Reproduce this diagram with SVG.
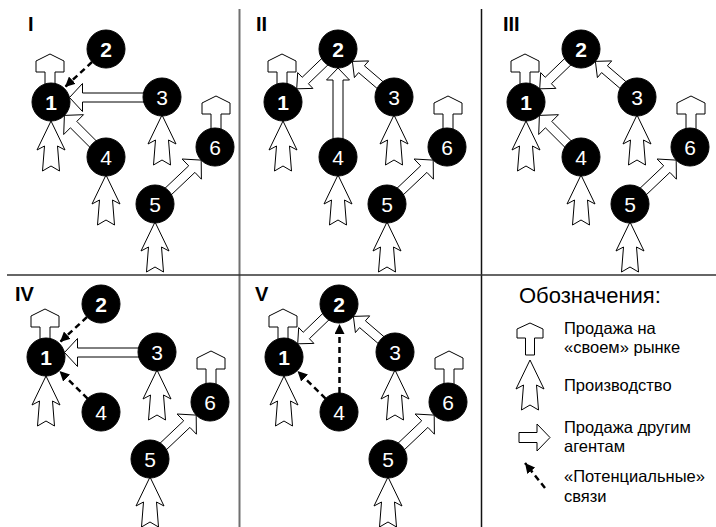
<svg xmlns="http://www.w3.org/2000/svg" xmlns:xlink="http://www.w3.org/1999/xlink" width="716" height="527" viewBox="0 0 716 527">
<style>
.sh{fill:#fff;stroke:#000;stroke-width:1;stroke-linejoin:miter}
.node circle{fill:#000;stroke:#000;stroke-width:1}
.num{fill:#fff;font-family:"Liberation Sans",Arial,sans-serif;font-size:21px;text-anchor:middle}
.b{font-weight:bold}
.pl{fill:#000;font-family:"Liberation Sans",Arial,sans-serif;font-size:20px;font-weight:bold}
.lg{fill:#000;font-family:"Liberation Sans",Arial,sans-serif;font-size:16.5px}
.dash{fill:none;stroke:#000;stroke-width:2.5;stroke-dasharray:6 4;marker-end:url(#ah)}
</style>
<defs>
<marker id="ah" markerUnits="userSpaceOnUse" markerWidth="11" markerHeight="10" refX="10" refY="5" orient="auto"><path d="M0,0 L10,5 L0,10 Z" fill="#000"/></marker>
<path id="own" class="sh" d="M0,0 L14,7 L14,18 L5,18 L5,40 L-5,40 L-5,18 L-14,18 L-14,7 Z"/>
<path id="prod" class="sh" d="M0,0 L14,29 L6.5,25 L8.5,50 L0,45 L-8.5,50 L-6.5,25 L-14,29 Z"/>
<polygon id="a31" class="sh" points="162,93 82.5,93 82.5,83.5 69.5,97.5 82.5,111.5 82.5,102 162,102"/>
<polygon id="a41" class="sh" points="109.2,153.8 76.8,121.4 83.5,114.7 64.4,115.4 63.7,134.5 70.4,127.8 102.8,160.2"/>
<polygon id="a56" class="sh" points="158.1,207.3 194.9,172.4 201.4,179.2 201.2,160.1 182.1,159 188.7,165.8 151.9,200.7"/>
<polygon id="a21" class="sh" points="102.9,45.8 70.2,77.3 65.7,72.6 64.7,88.8 80.9,88.4 76.4,83.7 109.1,52.2"/>
<polygon id="a32" class="sh" points="164.9,93.6 132.4,65.8 136.7,60.9 120.4,61.4 122.4,77.6 126.6,72.6 159.1,100.4"/>
<polygon id="a42" class="sh" points="111,157 111,80 117.5,80 106,68 94.5,80 101,80 101,157"/>
</defs>

<g id="grid" fill="none">
<line x1="239.5" y1="9" x2="239.5" y2="527" stroke="#707070" stroke-width="2"/>
<line x1="481.5" y1="9" x2="481.5" y2="527" stroke="#111" stroke-width="1.5"/>
<line x1="7" y1="275" x2="716" y2="275" stroke="#333" stroke-width="1.5"/>
</g>

<!-- Panel I -->
<g id="panel-I">
<text class="pl" x="28" y="31">I</text>
<g id="I-connectors">
<line class="dash" x1="92" y1="62" x2="65" y2="87"/>
<use xlink:href="#a31"/>
<use xlink:href="#a41"/>
<use xlink:href="#a56"/>
</g>
<g id="I-n1" class="node"><use xlink:href="#own" x="50" y="54"/><use xlink:href="#prod" x="51" y="121"/><circle cx="51" cy="102" r="19"/><text class="num b" x="51" y="109.5">1</text></g>
<g id="I-n2" class="node"><circle cx="106" cy="49" r="19"/><text class="num b" x="106" y="56.5">2</text></g>
<g id="I-n3" class="node"><use xlink:href="#prod" x="162" y="115"/><circle cx="162" cy="97" r="19"/><text class="num" x="162" y="104.5">3</text></g>
<g id="I-n4" class="node"><use xlink:href="#prod" x="106" y="175"/><circle cx="106" cy="157" r="19"/><text class="num" x="106" y="164.5">4</text></g>
<g id="I-n5" class="node"><use xlink:href="#prod" x="155" y="222"/><circle cx="155" cy="204" r="19"/><text class="num" x="155" y="211.5">5</text></g>
<g id="I-n6" class="node"><use xlink:href="#own" x="216" y="96"/><circle cx="215" cy="147" r="19"/><text class="num" x="215" y="154.5">6</text></g>
</g>

<!-- Panel II -->
<g id="panel-II" transform="translate(232,0)">
<text class="pl" x="24" y="31">II</text>
<g id="II-connectors">
<use xlink:href="#a21"/>
<use xlink:href="#a42"/>
<use xlink:href="#a32"/>
<use xlink:href="#a56"/>
</g>
<g id="II-n1" class="node"><use xlink:href="#own" x="50" y="54"/><use xlink:href="#prod" x="51" y="121"/><circle cx="51" cy="102" r="19"/><text class="num b" x="51" y="109.5">1</text></g>
<g id="II-n2" class="node"><circle cx="106" cy="49" r="19"/><text class="num b" x="106" y="56.5">2</text></g>
<g id="II-n3" class="node"><use xlink:href="#prod" x="162" y="115"/><circle cx="162" cy="97" r="19"/><text class="num" x="162" y="104.5">3</text></g>
<g id="II-n4" class="node"><use xlink:href="#prod" x="106" y="175"/><circle cx="106" cy="157" r="19"/><text class="num" x="106" y="164.5">4</text></g>
<g id="II-n5" class="node"><use xlink:href="#prod" x="155" y="222"/><circle cx="155" cy="204" r="19"/><text class="num" x="155" y="211.5">5</text></g>
<g id="II-n6" class="node"><use xlink:href="#own" x="216" y="96"/><circle cx="215" cy="147" r="19"/><text class="num" x="215" y="154.5">6</text></g>
</g>

<!-- Panel III -->
<g id="panel-III" transform="translate(475,0)">
<text class="pl" x="28" y="31">III</text>
<g id="III-connectors">
<use xlink:href="#a21"/>
<use xlink:href="#a32"/>
<use xlink:href="#a41"/>
<use xlink:href="#a56"/>
</g>
<g id="III-n1" class="node"><use xlink:href="#own" x="50" y="54"/><use xlink:href="#prod" x="51" y="121"/><circle cx="51" cy="102" r="19"/><text class="num b" x="51" y="109.5">1</text></g>
<g id="III-n2" class="node"><circle cx="106" cy="49" r="19"/><text class="num b" x="106" y="56.5">2</text></g>
<g id="III-n3" class="node"><use xlink:href="#prod" x="162" y="115"/><circle cx="162" cy="97" r="19"/><text class="num" x="162" y="104.5">3</text></g>
<g id="III-n4" class="node"><use xlink:href="#prod" x="106" y="175"/><circle cx="106" cy="157" r="19"/><text class="num" x="106" y="164.5">4</text></g>
<g id="III-n5" class="node"><use xlink:href="#prod" x="155" y="222"/><circle cx="155" cy="204" r="19"/><text class="num" x="155" y="211.5">5</text></g>
<g id="III-n6" class="node"><use xlink:href="#own" x="216" y="96"/><circle cx="215" cy="147" r="19"/><text class="num" x="215" y="154.5">6</text></g>
</g>

<!-- Panel IV -->
<g id="panel-IV" transform="translate(-5,255)">
<text class="pl" x="20" y="46">IV</text>
<g id="IV-connectors">
<line class="dash" x1="92" y1="62" x2="65" y2="87"/>
<line class="dash" x1="92.6" y1="143.6" x2="64.5" y2="116"/>
<use xlink:href="#a31"/>
<use xlink:href="#a56"/>
</g>
<g id="IV-n1" class="node"><use xlink:href="#own" x="50" y="54"/><use xlink:href="#prod" x="51" y="121"/><circle cx="51" cy="102" r="19"/><text class="num b" x="51" y="109.5">1</text></g>
<g id="IV-n2" class="node"><circle cx="106" cy="49" r="19"/><text class="num b" x="106" y="56.5">2</text></g>
<g id="IV-n3" class="node"><use xlink:href="#prod" x="162" y="115"/><circle cx="162" cy="97" r="19"/><text class="num" x="162" y="104.5">3</text></g>
<g id="IV-n4" class="node"><circle cx="106" cy="157" r="19"/><text class="num" x="106" y="164.5">4</text></g>
<g id="IV-n5" class="node"><use xlink:href="#prod" x="155" y="222"/><circle cx="155" cy="204" r="19"/><text class="num" x="155" y="211.5">5</text></g>
<g id="IV-n6" class="node"><use xlink:href="#own" x="216" y="96"/><circle cx="215" cy="147" r="19"/><text class="num" x="215" y="154.5">6</text></g>
</g>

<!-- Panel V -->
<g id="panel-V" transform="translate(233,255)">
<text class="pl" x="22" y="46">V</text>
<g id="V-connectors">
<use xlink:href="#a21"/>
<use xlink:href="#a32"/>
<use xlink:href="#a56"/>
<line class="dash" x1="92.6" y1="143.6" x2="64.5" y2="116"/>
<line class="dash" x1="106.5" y1="138" x2="106.5" y2="69"/>
</g>
<g id="V-n1" class="node"><use xlink:href="#own" x="50" y="54"/><use xlink:href="#prod" x="51" y="121"/><circle cx="51" cy="102" r="19"/><text class="num b" x="51" y="109.5">1</text></g>
<g id="V-n2" class="node"><circle cx="106" cy="49" r="19"/><text class="num b" x="106" y="56.5">2</text></g>
<g id="V-n3" class="node"><use xlink:href="#prod" x="162" y="115"/><circle cx="162" cy="97" r="19"/><text class="num" x="162" y="104.5">3</text></g>
<g id="V-n4" class="node"><circle cx="106" cy="157" r="19"/><text class="num" x="106" y="164.5">4</text></g>
<g id="V-n5" class="node"><use xlink:href="#prod" x="155" y="222"/><circle cx="155" cy="204" r="19"/><text class="num" x="155" y="211.5">5</text></g>
<g id="V-n6" class="node"><use xlink:href="#own" x="216" y="96"/><circle cx="215" cy="147" r="19"/><text class="num" x="215" y="154.5">6</text></g>
</g>

<!-- Legend -->
<g id="legend">
<text x="519" y="303" style="fill:#000;font-family:'Liberation Sans',Arial,sans-serif;font-size:22px">Обозначения:</text>
<path class="sh" d="M530,323 L543,329 L543,338 L534.5,338 L534.5,355 L525.5,355 L525.5,338 L517,338 L517,329 Z"/>
<use xlink:href="#prod" x="530" y="360"/>
<polygon class="sh" points="519,432.5 537,432.5 537,424 550,437.5 537,451 537,442.5 519,442.5"/>
<line class="dash" x1="545" y1="488" x2="525" y2="463"/>
<text class="lg" x="564" y="334">Продажа на</text>
<text class="lg" x="564" y="353">«своем» рынке</text>
<text class="lg" x="564" y="391">Производство</text>
<text class="lg" x="564" y="433">Продажа другим</text>
<text class="lg" x="564" y="452">агентам</text>
<text class="lg" x="564" y="482">«Потенциальные»</text>
<text class="lg" x="564" y="502">связи</text>
</g>
</svg>
